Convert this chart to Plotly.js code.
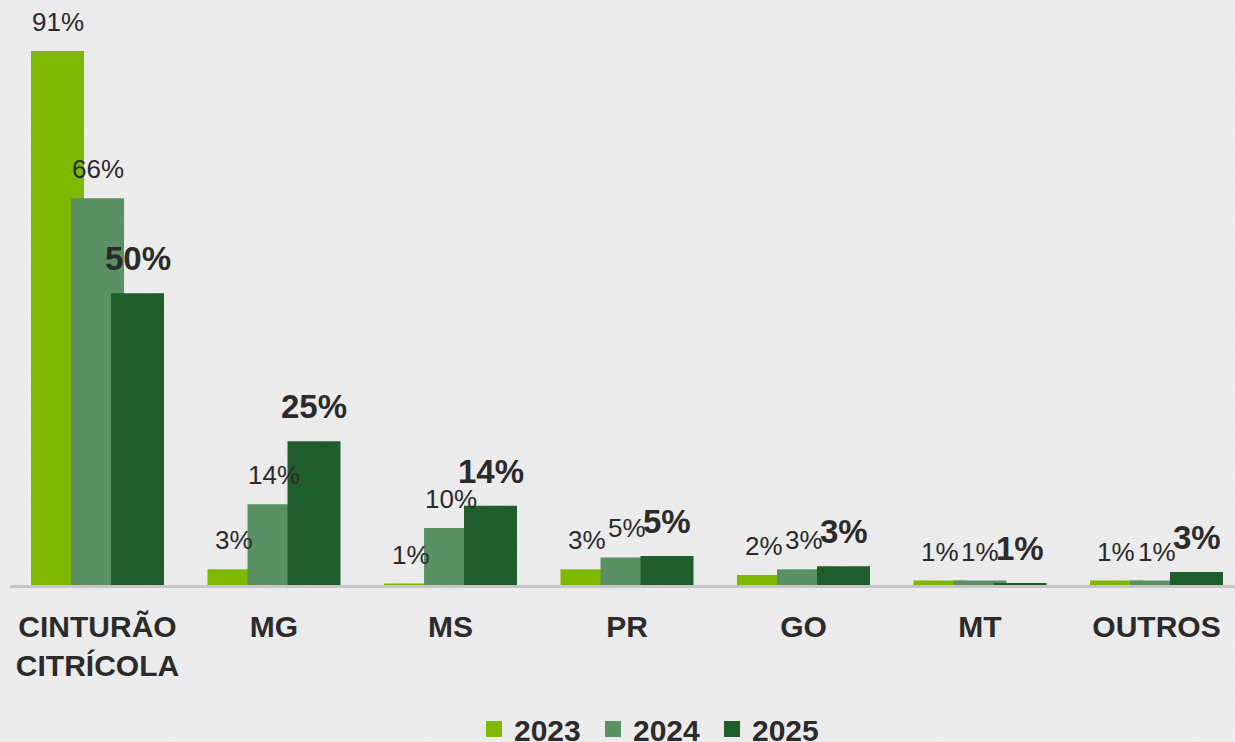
<!DOCTYPE html>
<html><head><meta charset="utf-8">
<script src="https://cdn.plot.ly/plotly-3.0.1.min.js"></script>
<style>
html,body{margin:0;padding:0;}
body{background-color:#f3f3f3;background-image:url("data:image/svg+xml;utf8,<svg xmlns='http://www.w3.org/2000/svg' width='256' height='256'><filter id='n'><feTurbulence type='fractalNoise' baseFrequency='0.9' numOctaves='3' stitchTiles='stitch'/><feColorMatrix values='0 0 0 0 0  0 0 0 0 0  0 0 0 0 0  0.06 0 0 0 0'/></filter><rect width='100%' height='100%' filter='url(%23n)'/></svg>");}
#chart{width:1235px;height:742px;}
</style>
</head><body><div id="chart"></div>
<script>
const categories = ['CINTURÃO<br>CITRÍCOLA','MG','MS','PR','GO','MT','OUTROS'];
const years = ['2023','2024','2025'];
const values2023 = [91, 2.7, 0.25, 2.7, 1.7, 0.75, 0.75];
const values2024 = [65.9, 13.75, 9.7, 4.7, 2.7, 0.75, 0.75];
const values2025 = [49.7, 24.5, 13.5, 4.95, 3.2, 0.35, 2.2];
const labels2023 = ['91%','3%','1%','3%','2%','1%','1%'];
const labels2024 = ['66%','14%','10%','5%','3%','1%','1%'];
const labels2025 = ['50%','25%','14%','5%','3%','1%','3%'];

const colors = ['#7fb800','#5a9164','#1f5d2c'];
const series = [values2023, values2024, values2025];
const labels = [labels2023, labels2024, labels2025];
const barWidth = 0.3003;
const offsets = [-0.3768, -0.150, 0.0765];
const textColor = '#2b2b2b';
const FONT = 'Liberation Sans, Arial, sans-serif';

const traces = series.map((vals, i) => ({
  type: 'bar',
  name: years[i],
  legendgroup: years[i],
  showlegend: false,
  x: categories,
  y: vals,
  width: barWidth,
  offset: offsets[i],
  marker: {color: colors[i], line: {width: 0}},
  hoverinfo: 'none'
}));

// legend entries (square swatches)
years.forEach((yr, i) => {
  traces.push({
    type: 'scatter', mode: 'markers',
    name: yr, legendgroup: yr, showlegend: true,
    x: [null], y: [null],
    marker: {symbol: 'square', size: 18, color: colors[i]},
    hoverinfo: 'none'
  });
});

const annotations = [];
series.forEach((vals, i) => {
  const bold = i === 2;
  vals.forEach((v, j) => {
    annotations.push({
      x: j + offsets[i] + barWidth / 2,
      y: v,
      xref: 'x', yref: 'y',
      text: bold ? '<b>' + labels[i][j] + '</b>' : labels[i][j],
      showarrow: false,
      yanchor: 'bottom',
      yshift: bold ? 14 : 12,
      font: {family: FONT, size: bold ? 33 : 26, color: textColor}
    });
  });
});

const layout = {
  width: 1235, height: 742,
  margin: {l: 10, r: 0, t: 0, b: 157, autoexpand: false},
  paper_bgcolor: 'rgba(0,0,0,0)',
  plot_bgcolor: 'rgba(0,0,0,0)',
  barmode: 'overlay',
  showlegend: true,
  legend: {
    orientation: 'h',
    xref: 'container', yref: 'container',
    x: 0.3838, xanchor: 'left',
    y: 0.0175, yanchor: 'middle',
    entrywidth: 74, entrywidthmode: 'pixels',
    font: {family: FONT, size: 30, color: textColor, weight: 'bold'},
    bgcolor: 'rgba(0,0,0,0)'
  },
  xaxis: {
    type: 'category',
    range: [-0.4958, 6.4448],
    showgrid: false, zeroline: false,
    showline: true, linecolor: '#c6c6c6', linewidth: 3,
    ticks: '', ticklabelstandoff: 13,
    tickfont: {family: FONT, size: 30, color: textColor, weight: 'bold'}
  },
  yaxis: {
    range: [0, 99.69],
    showgrid: false, zeroline: false, showline: false,
    showticklabels: false, ticks: ''
  },
  annotations: annotations
};

Plotly.newPlot('chart', traces, layout, {displayModeBar: false, staticPlot: true});
</script></body></html>
